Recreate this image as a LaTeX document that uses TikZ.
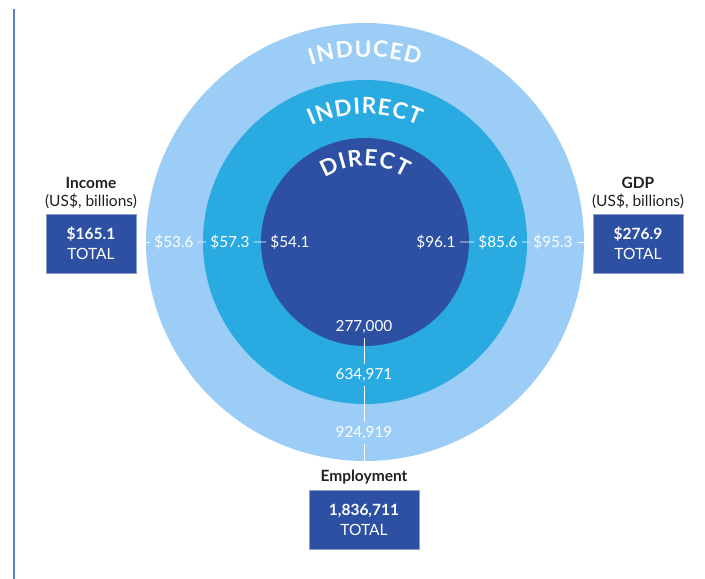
\documentclass[tikz,border=0pt]{standalone}
\usepackage{fontspec}
\setmainfont{Lato}
\usepackage{tikz}
\usetikzlibrary{positioning,decorations.text}
\definecolor{induced}{HTML}{9BCDF7}
\definecolor{indirect}{HTML}{29AAE1}
\definecolor{direct}{HTML}{2D50A3}
\definecolor{rule}{HTML}{5B7FC7}
\definecolor{ink}{HTML}{231F20}
\newcommand\ringfont{\fontsize{22.5}{22}\selectfont\bfseries}

\begin{document}
\begin{tikzpicture}[x=1pt,y=1pt,node distance=3pt,
  total/.style={fill=direct,draw=direct!55!white,line width=0.6pt,minimum width=90pt,minimum height=59pt,align=center,text=white,font=\fontsize{15.5}{20}\selectfont},
  head/.style={align=center,text=ink,font=\fontsize{15.5}{18}\selectfont},
  val/.style={text=white,inner sep=4pt,font=\fontsize{15.3}{16}\selectfont},
  link/.style={draw=white,line width=0.6pt},
  ring/.style={decorate,decoration={text along path,text align=center,text color=white,text={#1}}}]
\useasboundingbox (0,0) rectangle (705,579);
\draw[rule,line width=1.5pt] (14,570) -- (14,0);

% the three rings
\coordinate (ctr) at (365,337);
\fill[induced] (ctr) circle[radius=219];
\fill[indirect] (ctr) circle[radius=162];
\fill[direct] (ctr) circle[radius=104];

\path[ring={|\ringfont|I{\kern1.2pt}N{\kern1.2pt}D{\kern1.2pt}U{\kern1.2pt}C{\kern1.2pt}E{\kern1.2pt}D}] ([shift={(160:185)}]ctr) arc[start angle=160,end angle=20,radius=185];
\path[ring={|\ringfont|I{\kern1pt}N{\kern1pt}D{\kern1pt}I{\kern1pt}R{\kern1pt}E{\kern1pt}C{\kern1pt}T}] ([shift={(165:128)}]ctr) arc[start angle=165,end angle=15,radius=128];
\path[ring={|\ringfont|D{\kern1pt}I{\kern1pt}R{\kern1pt}E{\kern1pt}C{\kern1pt}T}] ([shift={(175:76)}]ctr) arc[start angle=175,end angle=5,radius=76];

% totals
\node[total] (incbox) at (91,335.5) {\textbf{\fontsize{15.5}{20}\selectfont\$165.1}\\TOTAL};
\node[total] (gdpbox) at (638,335.5) {\textbf{\fontsize{15.5}{20}\selectfont\$276.9}\\TOTAL};
\node[total,minimum width=110pt] (empbox) at (364,59.5) {\textbf{\fontsize{15.5}{20}\selectfont 1,836,711}\\TOTAL};
\node[head,above=1pt of incbox] (inchead) {\textbf{Income}\\(US\$, billions)};
\node[head,above=1pt of gdpbox] (gdphead) {\textbf{GDP}\\(US\$, billions)};
\node[head,above=2pt of empbox] (emphead) {\textbf{Employment}};

% values per ring
\node[val] (inc3) at (174,337) {\$53.6};
\node[val] (inc2) at (230,337) {\$57.3};
\node[val] (inc1) at (290,337) {\$54.1};
\node[val] (gdp1) at (436,337) {\$96.1};
\node[val] (gdp2) at (498,337) {\$85.6};
\node[val] (gdp3) at (553,337) {\$95.3};
\node[val] (emp1) at (364,252) {277,000};
\node[val] (emp2) at (364,204) {634,971};
\node[val] (emp3) at (364,146) {924,919};
\coordinate (empend) at (364,118);

\draw[link] (incbox) -- (inc3) (inc3) -- (inc2) (inc2) -- (inc1);
\draw[link] (gdpbox) -- (gdp3) (gdp3) -- (gdp2) (gdp2) -- (gdp1);
\draw[link] (emp1) -- (emp2) (emp2) -- (emp3) (emp3) -- (empend);
\end{tikzpicture}
\end{document}
